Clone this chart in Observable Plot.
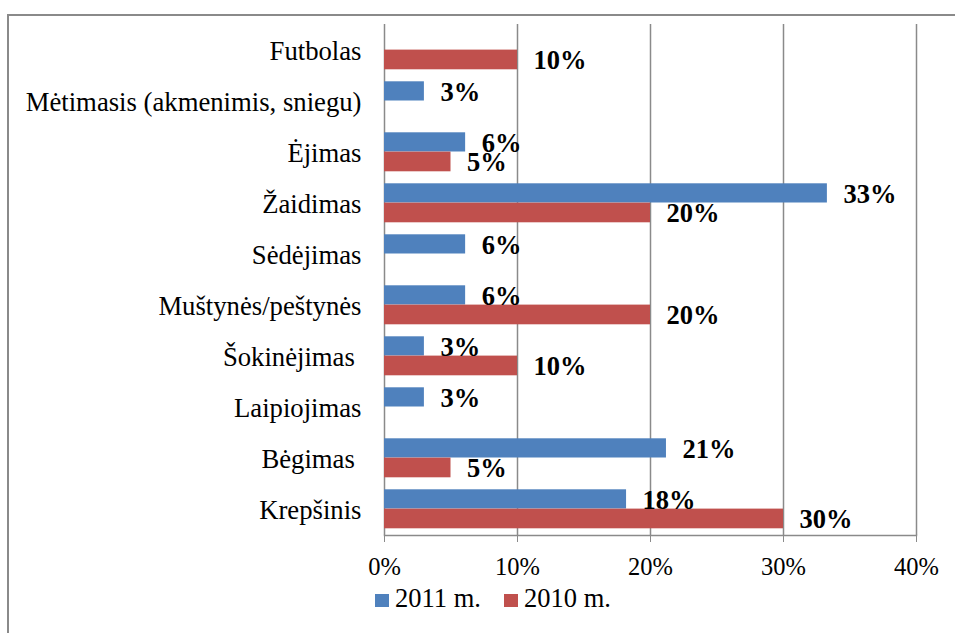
<!DOCTYPE html>
<html>
<head>
<meta charset="utf-8">
<script src="https://cdn.jsdelivr.net/npm/d3@7"></script>
<script src="https://cdn.jsdelivr.net/npm/@observablehq/plot@0.6"></script>
<style>
  html, body { margin: 0; padding: 0; background: #fff; }
  #wrap { position: relative; width: 955px; height: 633px; overflow: hidden; font-family: "Liberation Serif", "Times New Roman", serif; }
  #border { position: absolute; left: 7px; top: 14px; width: 1000px; height: 700px; border-left: 2px solid #8a8a8a; border-top: 2px solid #8a8a8a; box-sizing: border-box; }
  #chart { position: absolute; left: 0; top: 0; }
  .lg-sw { position: absolute; width: 14px; height: 13px; }
  .lg-tx { position: absolute; font-size: 26.5px; line-height: 26px; color: #000; white-space: nowrap; }
</style>
</head>
<body>
<div id="wrap">
  <div id="border"></div>
  <div id="chart"></div>
  <div id="legend"></div>
</div>
<script>
const categories = ["Futbolas", "Mėtimasis (akmenimis, sniegu)", "Ėjimas", "Žaidimas", "Sėdėjimas", "Muštynės/peštynės", "Šokinėjimas\u00A0", "Laipiojimas", "Bėgimas\u00A0", "Krepšinis"];
const values2011 = [null, 3.0, 6.1, 33.3, 6.1, 6.1, 3.0, 3.0, 21.2, 18.2];
const values2010 = [10, null, 5, 20, null, 20, 10, null, 5, 30];
const seriesNames = ["2011 m.", "2010 m."];
const seriesColors = ["#4F81BD", "#C0504D"];
const xTicks = [0, 10, 20, 30, 40];

const rows2011 = categories.map((c, i) => ({category: c, value: values2011[i]})).filter(d => d.value != null);
const rows2010 = categories.map((c, i) => ({category: c, value: values2010[i]})).filter(d => d.value != null);
const fmt = d => Math.round(d.value) + "%";

const chart = Plot.plot({
  width: 955,
  height: 590,
  marginTop: 24,
  marginBottom: 55,
  marginLeft: 384,
  marginRight: 39,
  style: {fontFamily: "'Liberation Serif', 'Times New Roman', serif", background: "transparent", color: "#000"},
  x: {domain: [0, 40], ticks: xTicks},
  y: {domain: categories, padding: 0},
  marks: [
    Plot.gridX(xTicks, {stroke: "#8a8a8a", strokeOpacity: 1, strokeWidth: 1.5}),
    Plot.frame({anchor: "bottom", stroke: "#8a8a8a", strokeWidth: 1.5}),
    Plot.barX(rows2011, {x: "value", y: "category", fill: seriesColors[0], insetTop: 5.3, insetBottom: 26.5}),
    Plot.barX(rows2010, {x: "value", y: "category", fill: seriesColors[1], insetTop: 24.6, insetBottom: 6.7}),
    Plot.text(rows2011, {x: "value", y: "category", text: fmt, dx: 16, dy: -9.6, textAnchor: "start", fontWeight: "bold", fontSize: 26.5, fill: "#000"}),
    Plot.text(rows2010, {x: "value", y: "category", text: fmt, dx: 16, dy: 9.7, textAnchor: "start", fontWeight: "bold", fontSize: 26.5, fill: "#000"}),
    Plot.axisX({ticks: xTicks, tickFormat: d => d + "%", tickSize: 7, tickPadding: 15, stroke: "#8a8a8a", fill: "#000", fontSize: 24.5, label: null}),
    Plot.axisY({tickSize: 0, tickPadding: 23, fontSize: 26.7, fill: "#000", label: null})
  ]
});
document.getElementById("chart").appendChild(chart);

// legend
const legend = document.getElementById("legend");
const lgX = [375, 504];
const txX = [395, 524];
seriesNames.forEach((name, i) => {
  const sw = document.createElement("div");
  sw.className = "lg-sw";
  sw.style.left = lgX[i] + "px";
  sw.style.top = "594px";
  sw.style.background = seriesColors[i];
  legend.appendChild(sw);
  const tx = document.createElement("div");
  tx.className = "lg-tx";
  tx.style.left = txX[i] + "px";
  tx.style.top = "585px";
  tx.textContent = name;
  legend.appendChild(tx);
});
</script>
</body>
</html>
